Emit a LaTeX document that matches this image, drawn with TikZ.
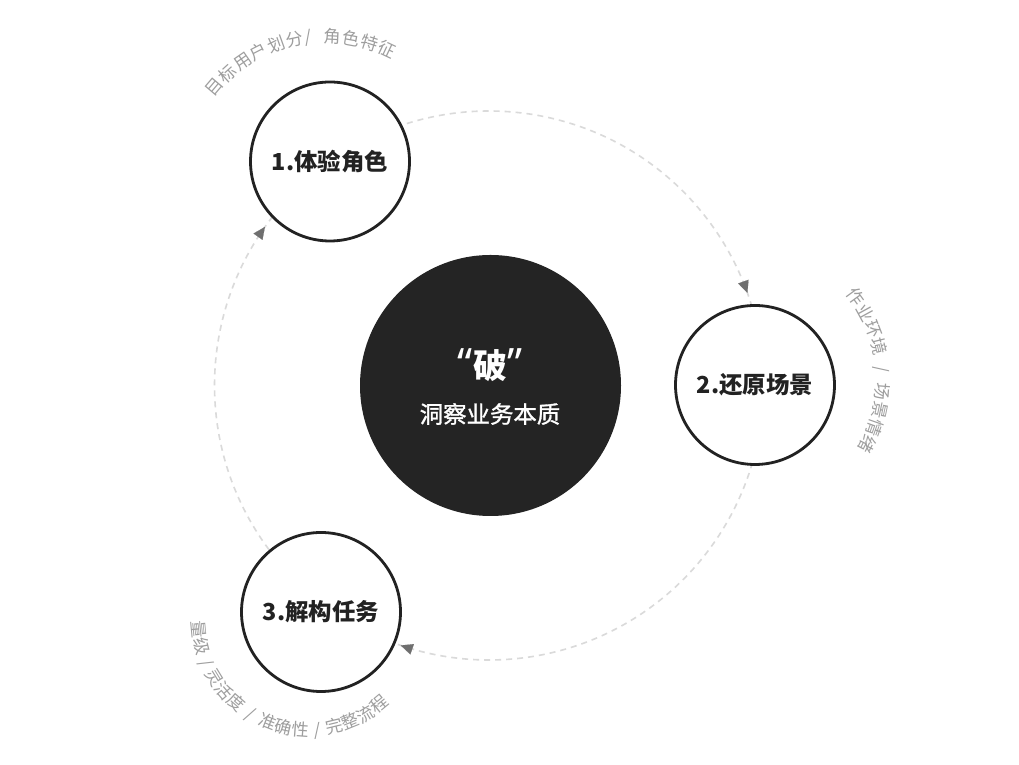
\documentclass[tikz,border=0pt]{standalone}
\usepackage{fontspec}
\setmainfont{Noto Sans CJK SC}
\newfontfamily\cjkmed{Noto Sans CJK SC}[FakeBold=1.3]
\newfontfamily\quotefont{Noto Sans}
\usetikzlibrary{arrows.meta,decorations.markings,calc}
\definecolor{ink}{HTML}{222222}
\definecolor{dark}{HTML}{242424}
\definecolor{dashgray}{HTML}{DADADA}
\definecolor{arrowgray}{HTML}{6F6F6F}
\definecolor{labgray}{HTML}{9E9E9E}
\newcommand{\labslash}{/}
\begin{document}
\begin{tikzpicture}[x=1bp,y=1bp,
  ring/.style={circle, draw=ink, line width=2.8bp, fill=white, minimum size=159bp, inner sep=0pt,
    font=\bfseries\fontsize{23.5}{28}\selectfont, text=ink},
  core/.style={circle, fill=dark, minimum size=261bp, inner sep=0pt},
  lab/.style={inner sep=0pt, text=labgray, font=\fontsize{17.3}{20}\selectfont, text height=0.8em, text depth=0.12em},
  dashl/.style={draw=dashgray, line width=1.6bp, dash pattern=on 6bp off 5bp},
  tipmark/.style={postaction={decorate, decoration={markings,
    mark=at position #1 with {\arrow{Triangle[length=12bp,width=11bp,color=arrowgray,line width=0.1bp]}}}}},
]
\useasboundingbox (0,0) rectangle (1019,765);
\fill[white] (0,0) rectangle (1019,765);

\coordinate (D) at (489,379.5);
\coordinate (aAs) at ($(D)+(112:274.5)$);
\coordinate (aBs) at ($(D)+(-14:274.5)$);
\coordinate (aCs) at ($(D)+(219:274.5)$);

% dashed connectors on the big ring
\draw[dashl, tipmark=-13bp] (aAs) arc[start angle=112, end angle=17, radius=274.5];
\draw[dashl, tipmark=-6bp] (aBs) arc[start angle=-14, end angle=-110, radius=274.5];
\draw[dashl, tipmark=-13bp] (aCs) arc[start angle=219, end angle=142, radius=274.5];

% circles
\node[ring] (c1) at (330,603.5) {1.体验角色};
\node[ring] (c2) at (755,380) {2.还原场景};
\node[ring] (c3) at (321,153) {3.解构任务};

\node[core] (c0) at (490.5,379.5) {};
\node[text=white, inner sep=0pt, font=\bfseries\fontsize{34}{40}\selectfont] (po) at (490,400)
  {{\quotefont\bfseries\fontsize{42}{42}\selectfont “\kern1bp}破{\quotefont\bfseries\fontsize{42}{42}\selectfont \kern1bp”}};
\node[text=white, inner sep=0pt, font=\cjkmed\fontsize{23.5}{28}\selectfont] (sub) at (490,351) {洞察业务本质};

% curved labels
\coordinate (Lc1) at (325,584);
\coordinate (Lc2) at (741,384.5);
\coordinate (Lc3) at (308.5,145.7);

\foreach \ch/\a [count=\i] in {目/139.7, 标/132.2, 用/124.7, 户/117.2, 划/109.7, 分/102.2,
    \labslash/96.5, 角/87.2, 色/79.7, 特/72.2, 征/64.7}
  \node[lab, rotate=\a-90] (lt\i) at ($(Lc1)+(\a:142)$) {\ch};

\foreach \ch/\a [count=\i] in {作/36, 业/28.6, 环/21.2, 境/13.8, \labslash/4.6,
    场/-4.6, 景/-12, 情/-19.4, 绪/-26.8}
  \node[lab, rotate=\a-90] (lr\i) at ($(Lc2)+(\a:139)$) {\ch};

\foreach \ch/\a [count=\i] in {量/185.4, 级/194.1, \labslash/203.5, 灵/211.5, 活/220.2, 度/228.9,
    \labslash/238.6, 准/248.3, 确/257.0, 性/265.7, \labslash/274.6, 完/283.5, 整/292.2, 流/300.9, 程/309.6}
  \node[lab, rotate=\a+90] (lb\i) at ($(Lc3)+(\a:113.5)$) {\ch};
\end{tikzpicture}
\end{document}
